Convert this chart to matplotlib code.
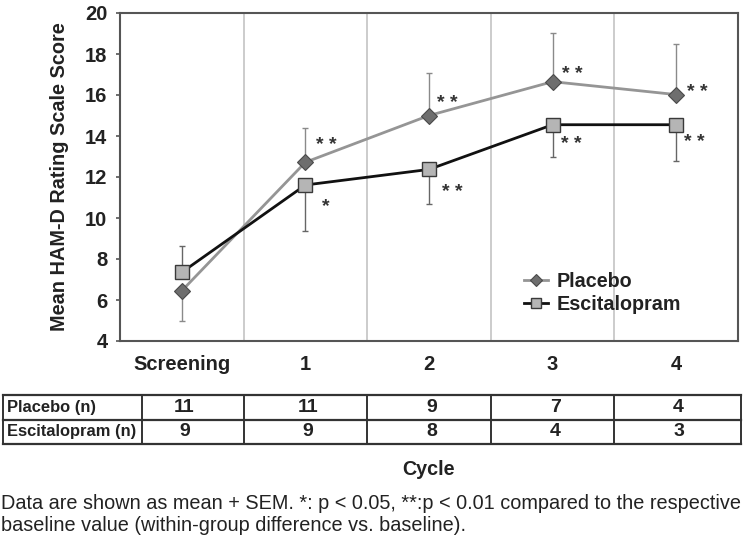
import matplotlib
matplotlib.use('Agg')
import matplotlib.pyplot as plt
import numpy as np

plt.rcParams['font.family'] = ['Liberation Sans', 'DejaVu Sans']

# Data
cycles = ['Screening', '1', '2', '3', '4']
placebo_mean = [6.45, 12.72, 15.0, 16.65, 16.02]
placebo_sem = [1.47, 1.69, 2.09, 2.39, 2.45]
placebo_dir = [-1, 1, 1, 1, 1]          # which side the SEM bar is drawn on
escit_mean = [7.35, 11.61, 12.37, 14.55, 14.55]
escit_sem = [1.28, 2.24, 1.69, 1.59, 1.75]
escit_dir = [1, -1, -1, -1, -1]
placebo_sig = ['', '**', '**', '**', '**']
escit_sig = ['', '*', '**', '**', '**']
placebo_n = [11, 11, 9, 7, 4]
escit_n = [9, 9, 8, 4, 3]

footnote = ['Data are shown as mean + SEM. *: p < 0.05, **:p < 0.01 compared to the respective',
            'baseline value (within-group difference vs. baseline).']

W, H = 744, 537
fig = plt.figure(figsize=(W / 100, H / 100), dpi=100)
ax = fig.add_axes([120 / W, 1 - 341 / H, 618 / W, 328 / H])

x = np.arange(len(cycles))


def split_err(sem, d):
    lo = [s if k < 0 else 0 for s, k in zip(sem, d)]
    hi = [s if k > 0 else 0 for s, k in zip(sem, d)]
    return [lo, hi]


# separators between cycles
for b in x[:-1] + 0.5:
    ax.axvline(b, color='#c4c4c4', lw=1.2, zorder=0)

ax.errorbar(x, placebo_mean, yerr=split_err(placebo_sem, placebo_dir),
            fmt='none', ecolor='#8a8a8a', elinewidth=1.0, capsize=2, capthick=1, zorder=2)
ax.errorbar(x, escit_mean, yerr=split_err(escit_sem, escit_dir),
            fmt='none', ecolor='#666666', elinewidth=1.0, capsize=2, capthick=1, zorder=2)

ax.plot(x, placebo_mean, color='#959595', lw=2, marker='D', ms=8,
        mfc='#6e6e6e', mec='#4a4a4a', mew=0.8, label='Placebo', zorder=3)
ax.plot(x, escit_mean, color='#111111', lw=2, marker='s', ms=9.5,
        mfc='#b5b5b5', mec='#3a3a3a', mew=1.0, label='Escitalopram', zorder=4)

# significance marks, pixel offsets from each point (dx right, dy up)
sig_fs = 14
plac_off = [(0, 0), (11, 24), (8, 19), (9, 14), (11, 9)]
esc_off = [(0, 0), (17, -15), (13, -16), (8, -13), (8, -11)]
for vals, sigs, offs in [(placebo_mean, placebo_sig, plac_off), (escit_mean, escit_sig, esc_off)]:
    for xi, y, s, (dx, dy) in zip(x, vals, sigs, offs):
        if s:
            ax.annotate(' '.join(s), (xi, y), xytext=(dx * 0.72, dy * 0.72 - 0.58 * sig_fs),
                        textcoords='offset points', fontsize=sig_fs, fontweight='bold',
                        color='#333333', ha='left', va='baseline')

ax.set_xlim(-0.5, 4.5)
ax.set_ylim(4, 20)
ax.set_yticks(range(4, 21, 2))
ax.set_xticks(x)
ax.set_xticklabels(cycles)
ax.tick_params(axis='x', length=0, pad=10, labelsize=14.5)
ax.tick_params(axis='y', length=3, width=1.2, color='#555555', pad=6, labelsize=14.5)
for lab in ax.get_xticklabels() + ax.get_yticklabels():
    lab.set_fontweight('bold')
    lab.set_color('#222222')
for sp in ax.spines.values():
    sp.set_color('#555555')
    sp.set_linewidth(1.5)
ax.set_ylabel('Mean HAM-D Rating Scale Score', fontsize=14.3, fontweight='bold',
              color='#222222')
ax.yaxis.label.set_va('center')
ax.yaxis.set_label_coords(-0.0987, 0.5)

leg = ax.legend(loc='center left', bbox_to_anchor=(0.654, 0.146), frameon=False,
                prop={'size': 14.2, 'weight': 'bold'}, handlelength=1.2,
                handletextpad=0.45, labelspacing=0.22, borderpad=0, borderaxespad=0,
                markerscale=0.75)
for t in leg.get_texts():
    t.set_color('#222222')

# n table under the chart, sharing the cycle positions
tax = fig.add_axes([120 / W, 1 - 444 / H, 618 / W, 49 / H], sharex=ax)
tax.set_ylim(0, 2)
tax.axis('off')
left, lab_edge, right = -1.447, -0.322, 4.524
for yy in [0, 1, 2]:
    tax.plot([left, right], [yy, yy], color='#333333', lw=1.6, clip_on=False)
for xx in [left, lab_edge] + list(x[:-1] + 0.5) + [right]:
    tax.plot([xx, xx], [0, 2], color='#333333', lw=1.4, clip_on=False)
rows = [('Placebo (n)', placebo_n), ('Escitalopram (n)', escit_n)]
for r, (name, vals) in enumerate(rows):
    yy = 1.5 - r
    tax.text(left + 0.032, yy, name, fontsize=11.9, fontweight='bold', color='#222222',
             ha='left', va='center', clip_on=False)
    for xi, v in zip(x, vals):
        tax.text(xi + 0.02, yy, str(v), fontsize=14, fontweight='bold', color='#222222',
                 ha='center', va='center')

fig.text(428 / W, 1 - 475 / H, 'Cycle', fontsize=14.2, fontweight='bold',
         color='#222222', ha='center', va='baseline')
for line, base in zip(footnote, [509, 531]):
    fig.text(1 / W, 1 - base / H, line, fontsize=14.3, color='#222222',
             ha='left', va='baseline')

fig.savefig('out.png', dpi=100)
